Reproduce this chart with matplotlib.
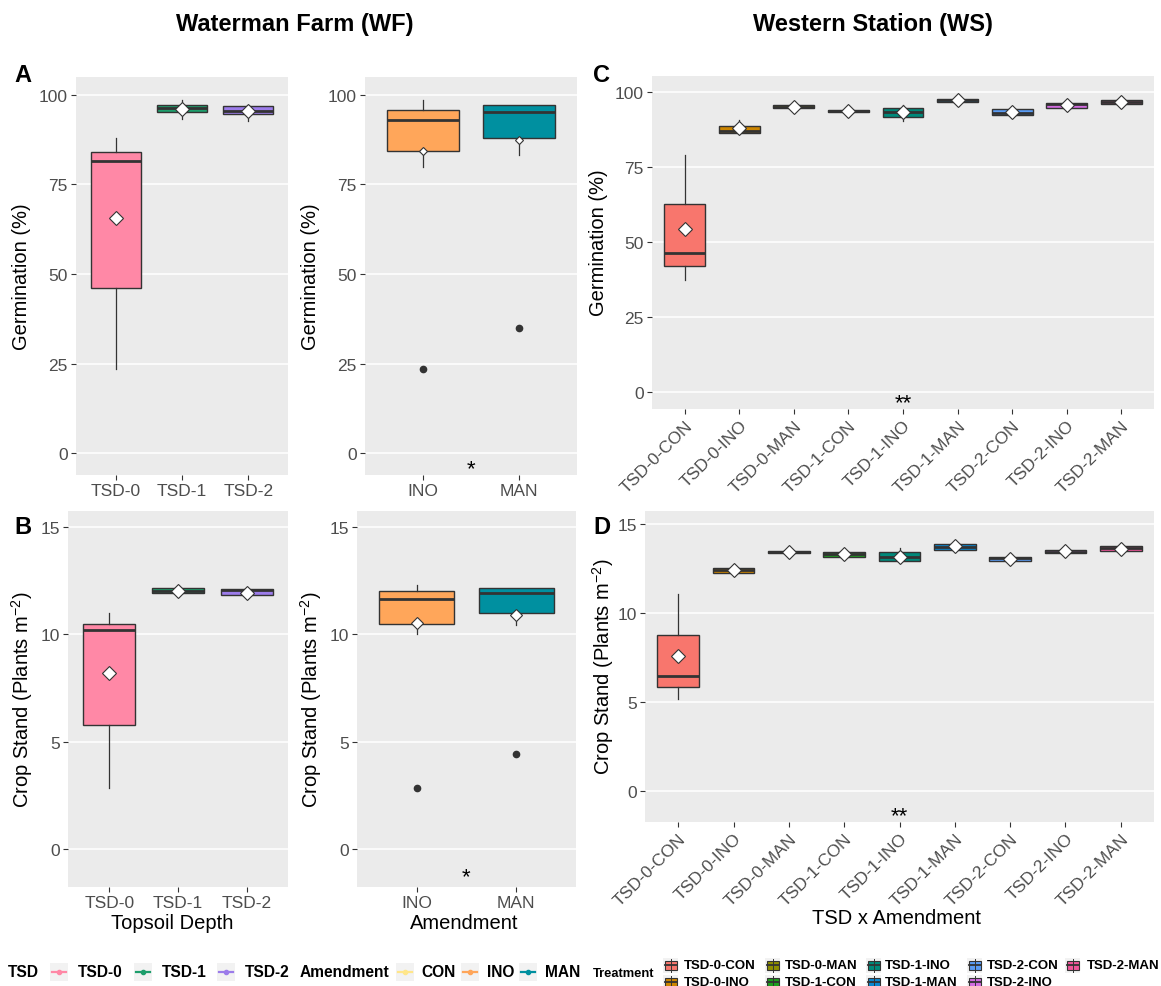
import matplotlib
matplotlib.use("Agg")
import matplotlib.pyplot as plt
from matplotlib.patches import Rectangle
from matplotlib.lines import Line2D

plt.rcParams['font.family'] = ['Liberation Sans', 'DejaVu Sans']
plt.rcParams['mathtext.fontset'] = 'custom'
plt.rcParams['mathtext.rm'] = 'Liberation Sans'
plt.rcParams['mathtext.it'] = 'Liberation Sans:italic'
plt.rcParams['mathtext.bf'] = 'Liberation Sans:bold'

# ---------------- categories ----------------
tsd_levels = ["TSD-0", "TSD-1", "TSD-2"]
amend_levels = ["INO", "MAN"]
treatments = ["TSD-0-CON", "TSD-0-INO", "TSD-0-MAN",
              "TSD-1-CON", "TSD-1-INO", "TSD-1-MAN",
              "TSD-2-CON", "TSD-2-INO", "TSD-2-MAN"]

# ---------------- colours ----------------
tsd_colors = ["#FF88A6", "#1E9E6C", "#9C7CEA"]
amend_legend_levels = ["CON", "INO", "MAN"]
amend_colors = ["#FFE68A", "#FFA65A", "#0090A0"]
treat_colors = ["#F8766D", "#CC8500", "#8E8E00", "#1E9E1E", "#00897A",
                "#0A87D0", "#5A9CF5", "#D36CE0", "#F0559A"]

# ---------------- Waterman Farm: germination (%) by TSD ----------------
wf_germ_tsd_whislo = [23.4, 93.2, 92.6]
wf_germ_tsd_q1 = [46.1, 95.3, 94.8]
wf_germ_tsd_med = [81.5, 96.3, 95.5]
wf_germ_tsd_q3 = [84.1, 97.2, 96.9]
wf_germ_tsd_whishi = [88.0, 98.6, 97.2]
wf_germ_tsd_mean = [65.6, 96.2, 95.5]
wf_germ_tsd_fliers = [[], [], []]

# ---------------- Waterman Farm: germination (%) by amendment ----------------
wf_germ_am_whislo = [79.9, 83.3]
wf_germ_am_q1 = [84.4, 88.0]
wf_germ_am_med = [93.1, 95.3]
wf_germ_am_q3 = [95.8, 97.3]
wf_germ_am_whishi = [98.6, 97.3]
wf_germ_am_mean = [84.4, 87.3]
wf_germ_am_fliers = [[23.4], [34.8]]

# ---------------- Waterman Farm: crop stand by TSD ----------------
wf_stand_tsd_whislo = [2.84, 11.85, 11.78]
wf_stand_tsd_q1 = [5.79, 11.90, 11.82]
wf_stand_tsd_med = [10.20, 12.02, 12.05]
wf_stand_tsd_q3 = [10.48, 12.16, 12.13]
wf_stand_tsd_whishi = [11.00, 12.20, 12.16]
wf_stand_tsd_mean = [8.20, 12.00, 11.93]
wf_stand_tsd_fliers = [[], [], []]

# ---------------- Waterman Farm: crop stand by amendment ----------------
wf_stand_am_whislo = [10.00, 10.42]
wf_stand_am_q1 = [10.48, 10.98]
wf_stand_am_med = [11.66, 11.91]
wf_stand_am_q3 = [12.00, 12.17]
wf_stand_am_whishi = [12.31, 12.17]
wf_stand_am_mean = [10.53, 10.92]
wf_stand_am_fliers = [[2.84], [4.41]]

# ---------------- Western Station: germination (%) by treatment ----------------
ws_germ_whislo = [37.2, 86.0, 94.5, 93.4, 90.3, 96.8, 92.4, 94.8, 95.9]
ws_germ_q1 = [41.9, 86.3, 94.5, 93.4, 91.6, 96.8, 92.4, 94.8, 95.9]
ws_germ_med = [46.4, 86.9, 95.0, 93.8, 93.2, 97.2, 92.9, 95.9, 96.8]
ws_germ_q3 = [62.8, 88.8, 95.6, 94.1, 94.6, 97.7, 94.2, 96.4, 97.4]
ws_germ_whishi = [78.9, 90.8, 95.6, 94.1, 95.8, 97.7, 94.2, 96.4, 97.4]
ws_germ_mean = [54.3, 87.9, 95.1, 93.75, 93.2, 97.3, 93.2, 95.8, 96.7]
ws_germ_fliers = [[] for _ in treatments]

# ---------------- Western Station: crop stand by treatment ----------------
ws_stand_whislo = [5.15, 12.26, 13.36, 13.15, 12.90, 13.53, 12.90, 13.36, 13.49]
ws_stand_q1 = [5.82, 12.26, 13.36, 13.15, 12.90, 13.53, 12.90, 13.36, 13.49]
ws_stand_med = [6.48, 12.40, 13.45, 13.30, 13.12, 13.73, 13.08, 13.45, 13.64]
ws_stand_q3 = [8.75, 12.52, 13.51, 13.43, 13.40, 13.88, 13.17, 13.54, 13.77]
ws_stand_whishi = [11.05, 12.52, 13.51, 13.43, 13.64, 13.88, 13.17, 13.54, 13.77]
ws_stand_mean = [7.57, 12.41, 13.45, 13.32, 13.17, 13.75, 13.02, 13.47, 13.62]
ws_stand_fliers = [[] for _ in treatments]

# ---------------- figure ----------------
W, H = 1161, 987
fig = plt.figure(figsize=(W / 100, H / 100), dpi=100)


def fx(x):
    return x / W


def fy(y):
    return 1 - y / H


def axes_px(x0, y0, x1, y1):
    return fig.add_axes([fx(x0), fy(y1), (x1 - x0) / W, (y1 - y0) / H])


EDGE = "#333333"


def draw_boxes(ax, whislo, q1, med, q3, whishi, mean, fliers, colors, mean_ms):
    stats = []
    for i in range(len(med)):
        stats.append(dict(whislo=whislo[i], q1=q1[i], med=med[i], q3=q3[i],
                          whishi=whishi[i], mean=mean[i], fliers=fliers[i]))
    bp = ax.bxp(stats, positions=list(range(1, len(med) + 1)), widths=0.75,
                patch_artist=True, showmeans=True, showcaps=False,
                boxprops=dict(edgecolor=EDGE, linewidth=1.0),
                medianprops=dict(color=EDGE, linewidth=2.0, solid_capstyle='butt'),
                whiskerprops=dict(color=EDGE, linewidth=0.9),
                flierprops=dict(marker='o', markersize=4.5, markerfacecolor=EDGE,
                                markeredgecolor=EDGE),
                meanprops=dict(marker='D', markersize=mean_ms, markerfacecolor='white',
                               markeredgecolor=EDGE, markeredgewidth=0.8, zorder=5))
    for patch, c in zip(bp['boxes'], colors):
        patch.set_facecolor(c)
    return bp


def style_axes(ax, labels, ylim, yticks, rotate=False):
    n = len(labels)
    ax.set_facecolor('#EBEBEB')
    for s in ax.spines.values():
        s.set_visible(False)
    ax.set_xlim(0.4, n + 0.6)
    ax.set_ylim(*ylim)
    ax.set_yticks(yticks)
    ax.set_xticks(list(range(1, n + 1)))
    if rotate:
        ax.set_xticklabels(labels, rotation=45, ha='right', va='top',
                           rotation_mode='anchor')
    else:
        ax.set_xticklabels(labels)
    ax.yaxis.grid(True, color='white', linewidth=1.1)
    ax.xaxis.grid(False)
    ax.set_axisbelow(True)
    ax.tick_params(axis='both', colors=EDGE, labelcolor='#4D4D4D', labelsize=12.5,
                   length=3.5, width=0.8, pad=2.5)


germ_ticks = [0, 25, 50, 75, 100]
stand_ticks = [0, 5, 10, 15]

# Panel A: germination by TSD
axA = axes_px(76, 78, 288, 476)
draw_boxes(axA, wf_germ_tsd_whislo, wf_germ_tsd_q1, wf_germ_tsd_med, wf_germ_tsd_q3,
           wf_germ_tsd_whishi, wf_germ_tsd_mean, wf_germ_tsd_fliers, tsd_colors, 7)
style_axes(axA, tsd_levels, (-6.1, 105), germ_ticks)

# Panel A (right): germination by amendment
axA2 = axes_px(365, 78, 577, 476)
draw_boxes(axA2, wf_germ_am_whislo, wf_germ_am_q1, wf_germ_am_med, wf_germ_am_q3,
           wf_germ_am_whishi, wf_germ_am_mean, wf_germ_am_fliers, amend_colors[1:], 4.3)
style_axes(axA2, amend_levels, (-6.1, 105), germ_ticks)
axA2.text(1.5, -5.9, "*", ha='center', va='baseline', fontsize=16, color='black')

# Panel B: crop stand by TSD
axB = axes_px(68, 512, 288, 888)
draw_boxes(axB, wf_stand_tsd_whislo, wf_stand_tsd_q1, wf_stand_tsd_med, wf_stand_tsd_q3,
           wf_stand_tsd_whishi, wf_stand_tsd_mean, wf_stand_tsd_fliers, tsd_colors, 7)
style_axes(axB, tsd_levels, (-1.77, 15.74), stand_ticks)

# Panel B (right): crop stand by amendment
axB2 = axes_px(357, 512, 576, 888)
draw_boxes(axB2, wf_stand_am_whislo, wf_stand_am_q1, wf_stand_am_med, wf_stand_am_q3,
           wf_stand_am_whishi, wf_stand_am_mean, wf_stand_am_fliers, amend_colors[1:], 6.3)
style_axes(axB2, amend_levels, (-1.77, 15.74), stand_ticks)
axB2.text(1.5, -1.55, "*", ha='center', va='baseline', fontsize=16, color='black')

# Panel C: germination by treatment
axC = axes_px(652, 77, 1154, 410)
draw_boxes(axC, ws_germ_whislo, ws_germ_q1, ws_germ_med, ws_germ_q3,
           ws_germ_whishi, ws_germ_mean, ws_germ_fliers, treat_colors, 7)
style_axes(axC, treatments, (-5.7, 105.3), germ_ticks, rotate=True)
axC.text(5, -5.5, "**", ha='center', va='baseline', fontsize=16, color='black')

# Panel D: crop stand by treatment
axD = axes_px(645, 512, 1154, 823)
draw_boxes(axD, ws_stand_whislo, ws_stand_q1, ws_stand_med, ws_stand_q3,
           ws_stand_whishi, ws_stand_mean, ws_stand_fliers, treat_colors, 7)
style_axes(axD, treatments, (-1.74, 15.73), stand_ticks, rotate=True)
axD.text(5, -1.7, "**", ha='center', va='baseline', fontsize=16, color='black')

# ---------------- titles and labels ----------------
fig.text(fx(295), fy(25), "Waterman Farm (WF)", ha='center', va='center',
         fontsize=17, fontweight='bold')
fig.text(fx(873), fy(25), "Western Station (WS)", ha='center', va='center',
         fontsize=17, fontweight='bold')
for letter, (x, y) in zip("ABCD", [(23, 75), (23, 528), (602, 75), (602, 528)]):
    fig.text(fx(x), fy(y), letter, ha='center', va='center', fontsize=17,
             fontweight='bold')

germ_label = "Germination (%)"
stand_label = "Crop Stand (Plants m$^{-2}$)"
for text, (x, y) in [(germ_label, (22, 277)), (germ_label, (311, 277)),
                     (germ_label, (598, 243)), (stand_label, (22, 700)),
                     (stand_label, (311, 700)), (stand_label, (603, 667))]:
    fig.text(fx(x), fy(y), text, rotation=90, ha='center', va='center', fontsize=14.5)

fig.text(fx(172), fy(924), "Topsoil Depth", ha='center', va='center', fontsize=14.5)
fig.text(fx(464), fy(924), "Amendment", ha='center', va='center', fontsize=14.5)
fig.text(fx(897), fy(919), "TSD x Amendment", ha='center', va='center', fontsize=14.5)

# ---------------- legends ----------------
LEG_Y = 973
KEY = 18
LEG_FS = 11.2


def line_key(x, color):
    fig.add_artist(Rectangle((fx(x), fy(LEG_Y + KEY / 2)), KEY / W, KEY / H,
                             transform=fig.transFigure, facecolor='#F2F2F2',
                             edgecolor='none'))
    fig.add_artist(Line2D([fx(x + 2), fx(x + KEY - 2)], [fy(LEG_Y), fy(LEG_Y)],
                          transform=fig.transFigure, color=color, linewidth=1.6))
    fig.add_artist(Line2D([fx(x + KEY / 2)], [fy(LEG_Y)], transform=fig.transFigure,
                          marker='o', markersize=3, color=color, linestyle='none'))


fig.text(fx(8), fy(LEG_Y), "TSD", ha='left', va='center', fontsize=LEG_FS,
         fontweight='bold')
for lab, col, kx, tx in zip(tsd_levels, tsd_colors, [50, 134, 217], [78, 162, 245]):
    line_key(kx, col)
    fig.text(fx(tx), fy(LEG_Y), lab, ha='left', va='center', fontsize=LEG_FS,
             fontweight='bold')
fig.text(fx(300), fy(LEG_Y), "Amendment", ha='left', va='center', fontsize=LEG_FS,
         fontweight='bold')
for lab, col, kx, tx in zip(amend_legend_levels, amend_colors, [396, 461, 519],
                            [421, 487, 545]):
    line_key(kx, col)
    fig.text(fx(tx), fy(LEG_Y), lab, ha='left', va='center', fontsize=LEG_FS,
             fontweight='bold')

fig.text(fx(593), fy(974), "Treatment", ha='left', va='center', fontsize=9.3,
         fontweight='bold')
col_key_x = [663, 765, 866, 967, 1065]
col_txt_x = [684, 785, 885, 987, 1087]
row_y = [966, 983]
BK = 15
for i, (lab, col) in enumerate(zip(treatments, treat_colors)):
    c, r = divmod(i, 2)
    kx, ky = col_key_x[c], row_y[r]
    fig.add_artist(Rectangle((fx(kx), fy(ky + BK / 2)), BK / W, BK / H,
                             transform=fig.transFigure, facecolor='#F2F2F2',
                             edgecolor='none'))
    fig.add_artist(Line2D([fx(kx + BK / 2)] * 2, [fy(ky - BK / 2 + 1), fy(ky + BK / 2 - 1)],
                          transform=fig.transFigure, color=EDGE, linewidth=0.7))
    fig.add_artist(Rectangle((fx(kx + 1.5), fy(ky + 4.5)), (BK - 3) / W, 9 / H,
                             transform=fig.transFigure, facecolor=col,
                             edgecolor=EDGE, linewidth=0.8))
    fig.add_artist(Line2D([fx(kx + 1.5), fx(kx + BK - 1.5)], [fy(ky), fy(ky)],
                          transform=fig.transFigure, color=EDGE, linewidth=1.3))
    fig.text(fx(col_txt_x[c]), fy(ky), lab, ha='left', va='center', fontsize=9.5,
             fontweight='bold')

fig.savefig("out.png", dpi=100, facecolor='white')
